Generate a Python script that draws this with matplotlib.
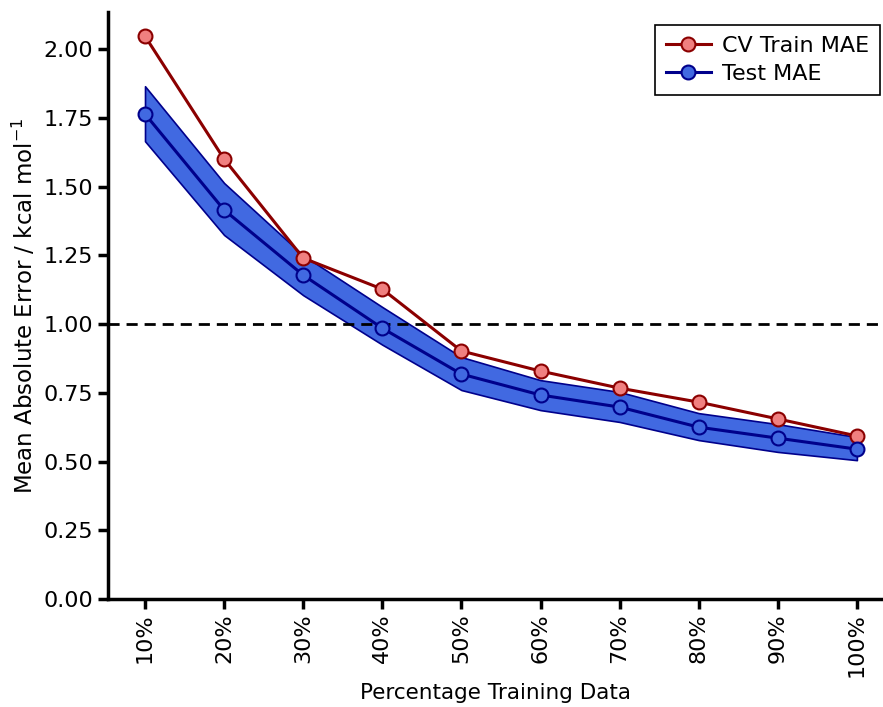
import numpy as np
import matplotlib.pyplot as plt

# training set sizes
percent_labels = ["10%", "20%", "30%", "40%", "50%", "60%", "70%", "80%", "90%", "100%"]

# mean absolute errors in kcal/mol
cv_train_mae = [2.047, 1.600, 1.240, 1.127, 0.902, 0.829, 0.767, 0.716, 0.655, 0.593]
test_mae = [1.764, 1.415, 1.178, 0.985, 0.818, 0.742, 0.698, 0.625, 0.585, 0.545]
test_upper = [1.865, 1.513, 1.250, 1.062, 0.880, 0.796, 0.753, 0.676, 0.636, 0.589]
test_lower = [1.665, 1.324, 1.105, 0.925, 0.760, 0.687, 0.644, 0.578, 0.535, 0.505]

x = np.arange(len(percent_labels))

fig = plt.figure(figsize=(8.83, 7.07), dpi=100)
ax = fig.add_axes([108/883, 108/707, 775/883, 587/707])

# spread of the test error
ax.fill_between(x, test_lower, test_upper, color="royalblue", edgecolor="darkblue",
                linewidth=1.2, zorder=1)

ax.plot(x, cv_train_mae, "-o", color="darkred", mfc="lightcoral", mec="darkred",
        lw=2.2, ms=10, mew=1.5, label="CV Train MAE", zorder=3)
ax.plot(x, test_mae, "-o", color="darkblue", mfc="royalblue", mec="darkblue",
        lw=2.2, ms=10, mew=1.5, label="Test MAE", zorder=3)

# 1 kcal/mol chemical accuracy line
ax.axhline(1.0, color="black", ls="--", lw=2, dashes=(4, 2.5), zorder=2)

ax.set_xlim(-0.468, 9.33)
ax.set_ylim(0, 2.135)
ax.set_xticks(x)
ax.set_xticklabels(percent_labels, rotation=90, fontsize=16)
ax.set_yticks(np.arange(0, 2.01, 0.25))
ax.set_yticklabels(["%.2f" % v for v in np.arange(0, 2.01, 0.25)], fontsize=16)
ax.tick_params(width=2.5, length=7)

ax.spines["top"].set_visible(False)
ax.spines["right"].set_visible(False)
ax.spines["left"].set_linewidth(2.5)
ax.spines["bottom"].set_linewidth(2.5)

ax.set_xlabel("Percentage Training Data", fontsize=15.5, labelpad=4)
ax.set_ylabel("Mean Absolute Error / kcal mol$^{-1}$", fontsize=16.5)

leg = ax.legend(loc="upper right", fontsize=16, fancybox=False, edgecolor="black",
                framealpha=1, bbox_to_anchor=(0.996, 0.978), borderaxespad=0,
                borderpad=0.5, handletextpad=0.5, labelspacing=0.35)
leg.get_frame().set_linewidth(1.2)

fig.savefig("out.png", dpi=100)
